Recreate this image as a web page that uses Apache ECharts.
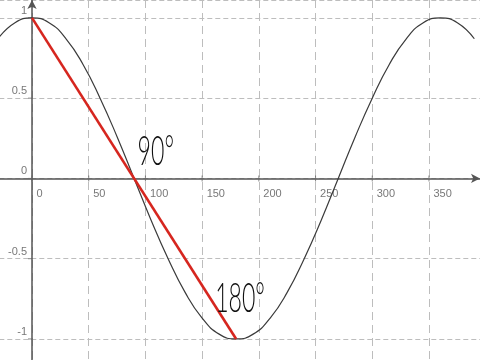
<!DOCTYPE html>
<html>
<head>
<meta charset="utf-8">
<script src="https://cdn.jsdelivr.net/npm/echarts@6/dist/echarts.min.js"></script>
<style>
html,body{margin:0;padding:0;background:#fff;}
#c{width:480px;height:360px;}
</style>
</head>
<body>
<div id="c"></div>
<script>
const curveX = [-30,-15,0,15,30,45,60,75,90,105,120,135,150,165,180,195,210,225,240,255,270,285,300,315,330,345,360,375,390];
const curveY = [0.87,0.97,1,0.97,0.87,0.71,0.5,0.26,0,-0.26,-0.5,-0.71,-0.87,-0.97,-1,-0.97,-0.87,-0.71,-0.5,-0.26,0,0.26,0.5,0.71,0.87,0.97,1,0.97,0.87];
// Red chord
const chordX = [0,180];
const chordY = [1,-1];
// Tick labels drawn next to the axes
const xTickValues = [0,50,100,150,200,250,300,350];
const xTickLabels = ['0','50','100','150','200','250','300','350'];
const yTickValues = [1,0.5,0,-0.5,-1];
const yTickLabels = ['1','0.5','0','-0.5','-1'];
// Annotations
const noteTexts = ['90°','180°'];
const noteX = [90,180];
const noteY = [0,-1];

const chart = echarts.init(document.getElementById('c'), null, {renderer:'canvas'});

const curveData = curveX.map((x,i)=>[x,curveY[i]]);
const chordData = chordX.map((x,i)=>[x,chordY[i]]);
const xTickData = xTickValues.map((v,i)=>({value:[v,0], name:xTickLabels[i]}));
const yTickData = yTickValues.map((v,i)=>({value:[0,v], name:yTickLabels[i]}));

const axisLineStyle = {color:'#555', width:1.5};
const labelFont = {fontSize:11, color:'#555', fontFamily:'Liberation Sans'};

chart.setOption({
  animation:false,
  backgroundColor:'#fff',
  grid:{left:-24.7, right:0, top:0, bottom:-59.2, containLabel:false, outerBoundsMode:'none'},
  xAxis:{
    type:'value', min:-50, max:395, interval:50,
    axisLine:{show:true, onZero:true, symbol:['none','arrow'], symbolSize:[7,9], lineStyle:axisLineStyle},
    axisTick:{show:false},
    axisLabel:{show:false},
    splitLine:{show:true, lineStyle:{color:'#bdbdbd', width:1, type:[8,5]}}
  },
  yAxis:{
    type:'value', min:-1.5, max:1.1115, interval:0.5,
    axisLine:{show:true, onZero:true, symbol:['none','arrow'], symbolSize:[7,9], lineStyle:axisLineStyle},
    axisTick:{show:false},
    axisLabel:{show:false},
    splitLine:{show:true, lineStyle:{color:'#bdbdbd', width:1, type:[5,3]}}
  },
  series:[
    {type:'line', data:curveData, smooth:true, symbol:'none', lineStyle:{color:'#3a3a3a', width:1.2}, z:3, silent:true},
    {type:'line', data:chordData, symbol:'none', lineStyle:{color:'#d6261f', width:2.6}, z:4, silent:true},
    {type:'scatter', data:xTickData, symbol:'rect', symbolSize:[1,6], itemStyle:{color:'#666'}, z:2, silent:true,
      label:{show:true, formatter:(p)=>p.name, position:[5,13], align:'left', verticalAlign:'top', ...labelFont}},
    {type:'scatter', data:yTickData, symbol:'rect', symbolSize:[4,1], symbolOffset:[-2,0], itemStyle:{color:'#666'}, z:2, silent:true,
      label:{show:true, formatter:(p)=>p.name, position:[-1,-1], align:'right', verticalAlign:'bottom', ...labelFont}}
  ]
});

// Place annotations using the chart's own scales
const offsets = [[3.5,-27],[-21,-40]];
const graphics = noteTexts.map((t,i)=>{
  const p = chart.convertToPixel({gridIndex:0},[noteX[i],noteY[i]]);
  return {
    type:'text', x:p[0]+offsets[i][0], y:p[1]+offsets[i][1], scaleX:0.55, z:10,
    style:{text:t, fill:'#111', font:'300 42px Lato', textAlign:'left', textVerticalAlign:'middle'}
  };
});
chart.setOption({graphic:graphics});
</script>
</body>
</html>
